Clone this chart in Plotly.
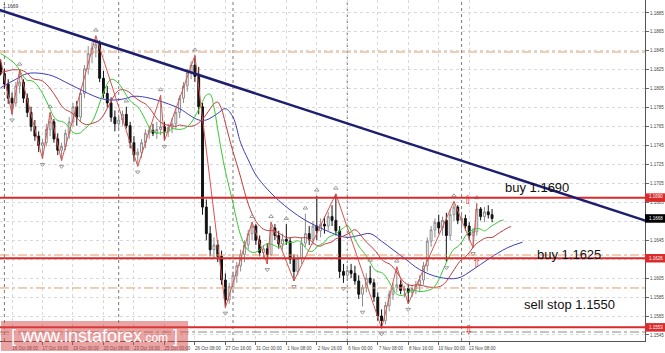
import plotly.graph_objects as go

# ---------------- data (H4 bars, index 0 = 16 Oct 00:00) ----------------
bars = list(range(-1, 129))
opens = [1.1832, 1.1821, 1.1810, 1.1795, 1.1790, 1.1808, 1.1812, 1.1795, 1.1780, 1.1765,
         1.1755, 1.1745, 1.1748, 1.1762, 1.1770, 1.1752, 1.1740, 1.1744, 1.1758, 1.1770,
         1.1786, 1.1775, 1.1800, 1.1826, 1.1842, 1.1848, 1.1852, 1.1816, 1.1800, 1.1790,
         1.1775, 1.1768, 1.1772, 1.1778, 1.1766, 1.1748, 1.1735, 1.1738, 1.1748, 1.1758,
         1.1761, 1.1758, 1.1762, 1.1765, 1.1760, 1.1764, 1.1768, 1.1780, 1.1795, 1.1808,
         1.1822, 1.1830, 1.1818, 1.1786, 1.1680, 1.1652, 1.1635, 1.1640, 1.1628, 1.1603,
         1.1582, 1.1596, 1.1608, 1.1618, 1.1630, 1.1640, 1.1652, 1.1660, 1.1645, 1.1632,
         1.1636, 1.1630, 1.1658, 1.1650, 1.1641, 1.1646, 1.1644, 1.1625, 1.1612, 1.1626,
         1.1642, 1.1652, 1.1646, 1.1660, 1.1655, 1.1662, 1.1660, 1.1670, 1.1666, 1.1655,
         1.1612, 1.1608, 1.1613, 1.1610, 1.1602, 1.1588, 1.1595, 1.1605, 1.1600, 1.1585,
         1.1565, 1.1560, 1.1576, 1.1588, 1.1595, 1.1598, 1.1592, 1.1594, 1.1590, 1.1594,
         1.1597, 1.1603, 1.1618, 1.1644, 1.1656, 1.1664, 1.1658, 1.1666, 1.1650, 1.1672,
         1.1680, 1.1666, 1.1668, 1.1660, 1.1650, 1.1654, 1.1678, 1.1670, 1.1675, 1.1672]
highs = [1.1836, 1.1826, 1.1815, 1.1801, 1.1812, 1.1825, 1.1815, 1.1800, 1.1786, 1.1772,
         1.1760, 1.1752, 1.1768, 1.1780, 1.1773, 1.1758, 1.1748, 1.1762, 1.1775, 1.1790,
         1.1792, 1.1805, 1.1830, 1.1850, 1.1854, 1.1861, 1.1856, 1.1824, 1.1808, 1.1796,
         1.1782, 1.1778, 1.1782, 1.1786, 1.1770, 1.1755, 1.1742, 1.1752, 1.1762, 1.1766,
         1.1768, 1.1770, 1.1798, 1.1770, 1.1768, 1.1774, 1.1784, 1.1798, 1.1812, 1.1826,
         1.1834, 1.1840, 1.1828, 1.1790, 1.1688, 1.1660, 1.1648, 1.1645, 1.1634, 1.1610,
         1.1600, 1.1612, 1.1622, 1.1635, 1.1645, 1.1656, 1.1664, 1.1662, 1.1650, 1.1640,
         1.1642, 1.1664, 1.1662, 1.1655, 1.1652, 1.1662, 1.1648, 1.1630, 1.1630, 1.1648,
         1.1673, 1.1660, 1.1665, 1.1692, 1.1668, 1.1670, 1.1675, 1.1682, 1.1694, 1.1660,
         1.1620, 1.1618, 1.1620, 1.1618, 1.1608, 1.1598, 1.1610, 1.1618, 1.1604, 1.1590,
         1.1572, 1.1580, 1.1592, 1.1600, 1.1617, 1.1603, 1.1597, 1.1598, 1.1598, 1.1602,
         1.1608, 1.1622, 1.1648, 1.1660, 1.1668, 1.1672, 1.1670, 1.1674, 1.1678, 1.1686,
         1.1682, 1.1672, 1.1672, 1.1664, 1.1658, 1.1684, 1.1680, 1.1680, 1.1682, 1.1678]
lows = [1.1819, 1.1805, 1.1789, 1.1778, 1.1786, 1.1800, 1.1790, 1.1775, 1.1760, 1.1750,
        1.1738, 1.1731, 1.1744, 1.1755, 1.1748, 1.1735, 1.1729, 1.1740, 1.1752, 1.1765,
        1.1766, 1.1770, 1.1795, 1.1820, 1.1832, 1.1838, 1.1812, 1.1795, 1.1785, 1.1770,
        1.1760, 1.1762, 1.1766, 1.1763, 1.1742, 1.1728, 1.1723, 1.1732, 1.1742, 1.1752,
        1.1755, 1.1752, 1.1756, 1.1750, 1.1754, 1.1758, 1.1762, 1.1774, 1.1790, 1.1802,
        1.1815, 1.1812, 1.1778, 1.1672, 1.1645, 1.1628, 1.1625, 1.1622, 1.1598, 1.1574,
        1.1578, 1.1590, 1.1600, 1.1612, 1.1622, 1.1635, 1.1645, 1.1640, 1.1628, 1.1625,
        1.1620, 1.1628, 1.1645, 1.1636, 1.1635, 1.1640, 1.1620, 1.1602, 1.1608, 1.1620,
        1.1638, 1.1640, 1.1640, 1.1645, 1.1648, 1.1652, 1.1655, 1.1660, 1.1650, 1.1605,
        1.1600, 1.1602, 1.1605, 1.1598, 1.1583, 1.1575, 1.1590, 1.1598, 1.1580, 1.1560,
        1.1552, 1.1556, 1.1570, 1.1582, 1.1590, 1.1588, 1.1585, 1.1578, 1.1585, 1.1588,
        1.1590, 1.1598, 1.1612, 1.1638, 1.1648, 1.1652, 1.1650, 1.1622, 1.1645, 1.1665,
        1.1662, 1.1656, 1.1655, 1.1645, 1.1637, 1.1650, 1.1666, 1.1664, 1.1668, 1.1664]
closes = [1.1821, 1.1810, 1.1795, 1.1790, 1.1808, 1.1812, 1.1795, 1.1780, 1.1765, 1.1755,
          1.1745, 1.1748, 1.1762, 1.1770, 1.1752, 1.1740, 1.1744, 1.1758, 1.1770, 1.1786,
          1.1775, 1.1800, 1.1826, 1.1842, 1.1848, 1.1852, 1.1816, 1.1800, 1.1790, 1.1775,
          1.1768, 1.1772, 1.1778, 1.1766, 1.1748, 1.1735, 1.1738, 1.1748, 1.1758, 1.1761,
          1.1758, 1.1762, 1.1765, 1.1760, 1.1764, 1.1768, 1.1780, 1.1795, 1.1808, 1.1822,
          1.1830, 1.1818, 1.1786, 1.1680, 1.1652, 1.1635, 1.1640, 1.1628, 1.1603, 1.1582,
          1.1596, 1.1608, 1.1618, 1.1630, 1.1640, 1.1652, 1.1660, 1.1645, 1.1632, 1.1636,
          1.1630, 1.1658, 1.1650, 1.1641, 1.1646, 1.1644, 1.1625, 1.1612, 1.1626, 1.1642,
          1.1652, 1.1646, 1.1660, 1.1655, 1.1662, 1.1660, 1.1670, 1.1666, 1.1655, 1.1612,
          1.1608, 1.1613, 1.1610, 1.1602, 1.1588, 1.1595, 1.1605, 1.1600, 1.1585, 1.1565,
          1.1560, 1.1576, 1.1588, 1.1595, 1.1598, 1.1592, 1.1594, 1.1590, 1.1594, 1.1597,
          1.1603, 1.1618, 1.1644, 1.1656, 1.1664, 1.1658, 1.1666, 1.1650, 1.1672, 1.1680,
          1.1666, 1.1668, 1.1660, 1.1650, 1.1654, 1.1678, 1.1670, 1.1675, 1.1672, 1.1668]

# Alligator lines
lips_x = list(range(-1, 132))
lips_p = [1.1842, 1.1840, 1.1837, 1.1834, 1.18303, 1.18246, 1.18176, 1.18139, 1.18136, 1.18114,
          1.18066, 1.17999, 1.17921, 1.17835, 1.17751, 1.17713, 1.17705, 1.17685, 1.17641, 1.1759,
          1.17574, 1.17586, 1.17624, 1.17657, 1.17701, 1.17786, 1.17899, 1.18005, 1.18103, 1.1815,
          1.18139, 1.18104, 1.18049, 1.17981, 1.17925, 1.17888, 1.17859, 1.17799, 1.17722, 1.17643,
          1.17598, 1.17582, 1.17584, 1.1759, 1.17594, 1.17629, 1.17623, 1.1762, 1.17628, 1.17648,
          1.1769, 1.17754, 1.17831, 1.17914, 1.17983, 1.17992, 1.17856, 1.17618, 1.17382, 1.17179,
          1.1701, 1.1684, 1.16656, 1.16503, 1.16404, 1.16345, 1.16323, 1.16325, 1.16351, 1.1639,
          1.16414, 1.16409, 1.16392, 1.16376, 1.16393, 1.16421, 1.16428, 1.16429, 1.16445, 1.16424,
          1.16371, 1.16335, 1.16336, 1.1638, 1.16404, 1.16428, 1.16479, 1.16499, 1.16521, 1.16547,
          1.1658, 1.16608, 1.16551, 1.16461, 1.16389, 1.16336, 1.16285, 1.16219, 1.16148, 1.16118,
          1.1611, 1.16072, 1.16008, 1.1593, 1.1588, 1.15866, 1.15875, 1.15907, 1.15917, 1.15916,
          1.15909, 1.1591, 1.15918, 1.15932, 1.15966, 1.16033, 1.16124, 1.16215, 1.16296, 1.16357,
          1.16382, 1.16429, 1.16494, 1.16539, 1.16559, 1.16574, 1.16568, 1.16549, 1.16573, 1.16604,
          1.16627, 1.16652, 1.16664]
teeth_x = list(range(-1, 134))
teeth_p = [1.1822, 1.1823, 1.1824, 1.1825, 1.1825, 1.1825, 1.18238, 1.18211, 1.18171, 1.18148,
           1.18145, 1.1813, 1.18098, 1.18052, 1.17997, 1.17934, 1.17869, 1.1783, 1.17811, 1.17785,
           1.17745, 1.177, 1.17676, 1.17671, 1.17684, 1.17697, 1.17719, 1.1777, 1.17843, 1.17916,
           1.17988, 1.18032, 1.1804, 1.18031, 1.18006, 1.17969, 1.17935, 1.17911, 1.1789, 1.17849,
           1.17795, 1.17736, 1.17696, 1.17674, 1.17664, 1.17658, 1.17652, 1.17667, 1.17659, 1.17653,
           1.17654, 1.17664, 1.17689, 1.17729, 1.1778, 1.17838, 1.17891, 1.17908, 1.17833, 1.17687,
           1.17531, 1.17385, 1.17254, 1.17117, 1.16967, 1.16832, 1.16729, 1.16652, 1.166, 1.16567,
           1.16553, 1.16552, 1.16547, 1.16527, 1.16502, 1.16478, 1.16476, 1.16483, 1.1648, 1.16474,
           1.16479, 1.16462, 1.16424, 1.16395, 1.16388, 1.16409, 1.1642, 1.16433, 1.16465, 1.16479,
           1.16495, 1.16514, 1.16539, 1.16562, 1.16532, 1.16478, 1.16431, 1.16393, 1.16354, 1.16304,
           1.16249, 1.16218, 1.16201, 1.16166, 1.16114, 1.16052, 1.16005, 1.15981, 1.15972, 1.1598,
           1.15977, 1.15969, 1.15958, 1.15953, 1.15953, 1.15958, 1.15976, 1.16016, 1.16075, 1.16138,
           1.16198, 1.16248, 1.16277, 1.16319, 1.16374, 1.16417, 1.16445, 1.16469, 1.16479, 1.16479,
           1.16503, 1.16531, 1.16555, 1.16579, 1.16595]
jaw_x = [-1, 3, 6, 10, 13, 16, 19, 22, 25, 28, 31, 34, 37, 40, 43, 46, 49, 51, 53, 56, 58, 60,
         62, 64, 66, 69, 72, 75, 79, 83, 87, 90, 93, 96, 99, 102, 105, 109, 114, 119, 123, 127,
         132, 136]
jaw_p = [1.1806, 1.1815, 1.1821, 1.1821, 1.1818, 1.1812, 1.1806, 1.1800, 1.1795, 1.1793,
         1.1794, 1.1797, 1.1796, 1.1793, 1.1789, 1.1784, 1.1776, 1.1772, 1.1772, 1.1779,
         1.1784, 1.1775, 1.1748, 1.1730, 1.1714, 1.1699, 1.1687, 1.1677, 1.1666, 1.1658,
         1.1651, 1.1648, 1.1650, 1.1652, 1.1644, 1.1635, 1.1626, 1.1614, 1.1606, 1.1605,
         1.1614, 1.1625, 1.1637, 1.1643]

# ZigZag vertices and fractal bars
zz_x = [-1, 2, 4, 10, 12, 15, 24, 35, 41, 42, 50, 58, 65, 69, 70, 76, 87, 99, 103, 106, 118, 123, 124]
zz_p = [1.1836, 1.1778, 1.1825, 1.1731, 1.1780, 1.1729, 1.1861, 1.1723, 1.1798, 1.1750, 1.1840,
        1.1574, 1.1664, 1.1620, 1.1664, 1.1602, 1.1694, 1.1552, 1.1617, 1.1578, 1.1686, 1.1637, 1.1684]
fract_up = [4, 12, 24, 32, 41, 50, 65, 70, 74, 79, 82, 87, 96, 103, 118, 124]
fract_dn = [2, 10, 15, 35, 42, 58, 69, 76, 89, 94, 99, 106, 116, 123]

# user objects
level_red = [1.1690, 1.1626, 1.1553]
level_dashdot = [1.18438, 1.16294, 1.15946]
level_gray = [1.15481]
trend_bar = [24, 120]
trend_price = [1.1855, 1.1729]
last_price = 1.1668
header_text = "1.1669"

# axis labels
y_ticks = [1.1545 + 0.002 * k for k in range(18)]
y_hidden = [1.1665, 1.1625]          # covered by price boxes in the original
label_bars = [2, 10, 18, 26, 34, 42, 50, 58, 66, 74, 82, 90, 98, 106, 114, 122]
label_text = ["16 Oct 08:00", "17 Oct 16:00", "19 Oct 00:00", "20 Oct 08:00", "23 Oct 16:00",
              "25 Oct 00:00", "26 Oct 08:00", "27 Oct 16:00", "31 Oct 00:00", "1 Nov 08:00",
              "2 Nov 16:00", "6 Nov 00:00", "7 Nov 08:00", "8 Nov 16:00", "10 Nov 00:00",
              "13 Nov 08:00"]
week_starts = [0, 30, 60, 90, 120]

# ---------------- layout constants ----------------
W, H = 665, 353
PW, PH = 645, 341
X_MIN, X_MAX = -1.155, 168.14
Y_MIN, Y_MAX = 1.15386, 1.18987

def px(x):
    return x / PW

def py(y):
    return 1 - y / PH

def yp(price):
    return (price - Y_MIN) / (Y_MAX - Y_MIN)

fig = go.Figure()

fig.add_trace(go.Candlestick(
    x=bars, open=opens, high=highs, low=lows, close=closes,
    increasing=dict(line=dict(color="#8c8c8c", width=1), fillcolor="#ffffff"),
    decreasing=dict(line=dict(color="#111111", width=1), fillcolor="#111111"),
    whiskerwidth=0, showlegend=False, hoverinfo="skip"))

fig.add_trace(go.Scatter(x=jaw_x, y=jaw_p, mode="lines", line=dict(color="#3d3dbb", width=1, shape="spline"),
                         showlegend=False, hoverinfo="skip"))
fig.add_trace(go.Scatter(x=teeth_x, y=teeth_p, mode="lines", line=dict(color="#c23b3b", width=1, shape="spline"),
                         showlegend=False, hoverinfo="skip"))
fig.add_trace(go.Scatter(x=lips_x, y=lips_p, mode="lines", line=dict(color="#35c935", width=1, shape="spline"),
                         showlegend=False, hoverinfo="skip"))
fig.add_trace(go.Scatter(x=zz_x, y=zz_p, mode="lines", line=dict(color="#d9534f", width=1),
                         showlegend=False, hoverinfo="skip"))

off = 0.0006
fig.add_trace(go.Scatter(x=fract_up, y=[highs[i + 1] + off for i in fract_up], mode="markers",
                         marker=dict(symbol="triangle-up-open", size=4, color="#9a9a9a", line=dict(width=1)),
                         showlegend=False, hoverinfo="skip"))
fig.add_trace(go.Scatter(x=fract_dn, y=[lows[i + 1] - off for i in fract_dn], mode="markers",
                         marker=dict(symbol="triangle-down-open", size=4, color="#9a9a9a", line=dict(width=1)),
                         showlegend=False, hoverinfo="skip"))

shapes = []
for wk in week_starts:
    shapes.append(dict(type="line", xref="x", yref="paper", x0=wk, x1=wk, y0=0, y1=1,
                       line=dict(color="#7a7a7a", width=1, dash="dot"), layer="below"))
for lv in level_dashdot:
    shapes.append(dict(type="line", xref="paper", yref="y", x0=0, x1=1, y0=lv, y1=lv,
                       line=dict(color="#e39a6e", width=1, dash="dashdot"), layer="above"))
for lv in level_gray:
    shapes.append(dict(type="line", xref="paper", yref="y", x0=0, x1=1, y0=lv, y1=lv,
                       line=dict(color="#8c8c7c", width=1, dash="dashdot"), layer="above"))
for lv in level_red:
    shapes.append(dict(type="line", xref="paper", yref="y", x0=0, x1=1, y0=lv, y1=lv,
                       line=dict(color="#d92b2b", width=2), layer="above"))

slope = (trend_price[1] - trend_price[0]) / (trend_bar[1] - trend_bar[0])
tx0, tx1 = X_MIN - 2, X_MAX + 2
shapes.append(dict(type="line", xref="x", yref="y", x0=tx0, x1=tx1,
                   y0=trend_price[0] + slope * (tx0 - trend_bar[0]),
                   y1=trend_price[0] + slope * (tx1 - trend_bar[0]),
                   line=dict(color="#1e1e70", width=2.5), layer="above"))

# right axis price boxes
box_h = 0.00045
box_list = [(1.1690, "#d92b2b", 1), (1.1626, "#d92b2b", 0), (1.1553, "#d92b2b", 0), (last_price, "#000000", 0)]
for lv, col, _ in box_list:
    shapes.append(dict(type="rect", xref="paper", yref="paper", x0=1.0, x1=665 / PW,
                       y0=yp(lv - box_h), y1=yp(lv + box_h), fillcolor=col, line=dict(width=0), layer="above"))

# watermark box
shapes.append(dict(type="rect", xref="paper", yref="paper", x0=px(1), x1=px(188), y0=py(351), y1=py(321),
                   fillcolor="rgba(214,72,72,0.5)", line=dict(width=0), layer="above"))

annotations = []
for lv, _, ys in box_list:
    annotations.append(dict(xref="paper", yref="paper", x=px(647), y=yp(lv), yshift=ys, xanchor="left",
                            yanchor="middle", text=f"{lv:.4f}", showarrow=False,
                            font=dict(size=4.5, color="#ffffff", family="Arial")))

for txt, x, y in [("buy 1.1690", 503, 188), ("buy 1.1625", 535, 254), ("sell stop 1.1550", 522, 304)]:
    annotations.append(dict(xref="paper", yref="paper", x=px(x), y=py(y), xanchor="left", yanchor="middle",
                            text=txt, showarrow=False, font=dict(size=13, color="#111111", family="Arial")))

for glyph, x, y in [("\u21e7", 468, 200), ("\u21e7", 477, 263), ("\u21e9", 469, 330)]:
    annotations.append(dict(xref="paper", yref="paper", x=px(x), y=py(y), xanchor="center", yanchor="middle",
                            text=glyph, showarrow=False, font=dict(size=12, color="#e03434", family="DejaVu Sans")))

annotations.append(dict(xref="paper", yref="paper", x=px(1), y=py(1), xanchor="left", yanchor="top",
                        text=header_text, showarrow=False, font=dict(size=5, color="#333333", family="Arial")))
annotations.append(dict(xref="paper", yref="paper", x=px(94), y=py(336), xanchor="center", yanchor="middle",
                        text="[ www.instaforex<span style='font-size:12px'>.com</span> ]", showarrow=False,
                        font=dict(size=18, color="#ffffff", family="Arial")))

y_text = ["" if any(abs(v - hv) < 1e-6 for hv in y_hidden) else f"{v:.4f}" for v in y_ticks]

fig.update_layout(
    width=W, height=H, margin=dict(l=0, r=W - PW, t=0, b=H - PH),
    paper_bgcolor="#ffffff", plot_bgcolor="#ffffff",
    shapes=shapes, annotations=annotations, showlegend=False,
    xaxis=dict(range=[X_MIN, X_MAX], tickvals=label_bars, ticktext=label_text, ticks="outside", ticklen=3,
               tickangle=0, tickcolor="#666666", tickfont=dict(size=4.5, color="#444444", family="Arial"),
               ticklabelshift=13, ticklabelstandoff=0,
               showgrid=True, gridcolor="#d9d9d9", griddash="dot", gridwidth=1, showline=True,
               linecolor="#555555", zeroline=False, rangeslider=dict(visible=False), fixedrange=True),
    yaxis=dict(range=[Y_MIN, Y_MAX], side="right", tickvals=y_ticks, ticktext=y_text,
               ticks="outside", ticklen=3, tickcolor="#666666",
               tickfont=dict(size=4.5, color="#444444", family="Arial"),
               showgrid=True, gridcolor="#d9d9d9", griddash="dot", gridwidth=1, showline=True,
               linecolor="#555555", zeroline=False, fixedrange=True),
)

fig.write_html("out.html")
